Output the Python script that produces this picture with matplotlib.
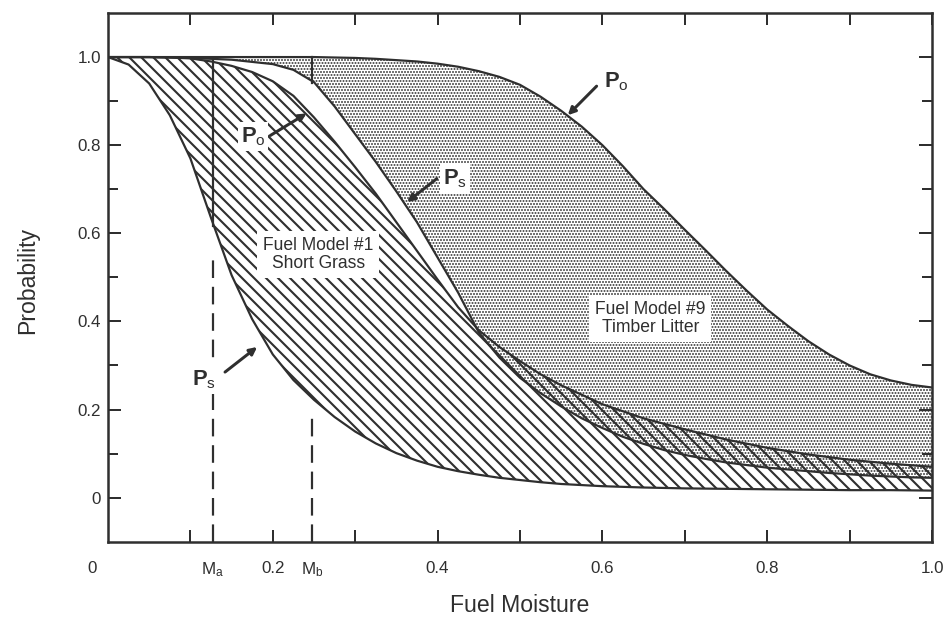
import numpy as np
import matplotlib.pyplot as plt

plt.rcParams['font.family'] = ['Liberation Sans', 'DejaVu Sans']
plt.rcParams['mathtext.fontset'] = 'custom'
plt.rcParams['mathtext.rm'] = 'Liberation Sans'
plt.rcParams['mathtext.bf'] = 'Liberation Sans:bold'

ink = '#2f2f2f'

# fuel model 1 (short grass): P_s and P_o against fuel moisture
x1 = [0, 0.025, 0.05, 0.075, 0.1, 0.125, 0.15, 0.175, 0.2, 0.225, 0.25, 0.275,
      0.3, 0.325, 0.35, 0.375, 0.4, 0.425, 0.45, 0.475, 0.5, 0.525, 0.55, 0.6, 0.65,
      0.7, 0.75, 0.8, 0.85, 0.9, 0.95, 1.0]
ps1 = [1.0, 0.983, 0.94, 0.868, 0.77, 0.635, 0.505, 0.405, 0.325, 0.267, 0.222, 0.183,
       0.15, 0.123, 0.101, 0.084, 0.07, 0.06, 0.052, 0.045, 0.04, 0.035, 0.031, 0.026, 0.023,
       0.021, 0.02, 0.019, 0.018, 0.017, 0.017, 0.016]
po1 = [1.0, 1.0, 1.0, 0.999, 0.997, 0.99, 0.98, 0.966, 0.945, 0.912, 0.863, 0.808,
       0.75, 0.69, 0.625, 0.56, 0.495, 0.432, 0.38, 0.342, 0.31, 0.28, 0.255, 0.212, 0.18,
       0.155, 0.132, 0.113, 0.098, 0.086, 0.077, 0.07]

# fuel model 9 (timber litter)
x9 = [0, 0.05, 0.1, 0.15, 0.2, 0.225, 0.25, 0.275, 0.3, 0.325, 0.35, 0.375, 0.4,
      0.425, 0.45, 0.475, 0.5, 0.525, 0.55, 0.575, 0.6, 0.625, 0.65, 0.675, 0.7,
      0.725, 0.75, 0.775, 0.8, 0.825, 0.85, 0.875, 0.9, 0.925, 0.95, 0.975, 1.0]
ps9 = [1.0, 1.0, 0.998, 0.994, 0.984, 0.971, 0.943, 0.888, 0.825, 0.762, 0.695, 0.625, 0.545,
       0.465, 0.375, 0.318, 0.272, 0.237, 0.207, 0.18, 0.158, 0.138, 0.122, 0.108, 0.097,
       0.088, 0.08, 0.074, 0.068, 0.064, 0.06, 0.056, 0.053, 0.05, 0.048, 0.046, 0.045]
po9 = [1.0, 1.0, 1.0, 1.0, 1.0, 1.0, 1.0, 0.999, 0.998, 0.996, 0.993, 0.99, 0.985,
       0.978, 0.968, 0.955, 0.937, 0.91, 0.878, 0.842, 0.80, 0.752, 0.70, 0.655, 0.608,
       0.562, 0.515, 0.47, 0.427, 0.39, 0.355, 0.325, 0.30, 0.28, 0.266, 0.256, 0.25]

ma, mb = 0.127, 0.248
ma_solid = [0.617, 0.99]
mb_solid = [0.94, 1.0]
ma_dash_top = 0.54
mb_dash_top = 0.19

xtick_pos = [0.1, 0.2, 0.3, 0.4, 0.5, 0.6, 0.7, 0.8, 0.9, 1.0]
xtick_lab = ['', '0.2', '', '0.4', '', '0.6', '', '0.8', '', '1.0']
ytick_pos = [0, 0.2, 0.4, 0.6, 0.8, 1.0]
ytick_lab = ['0', '0.2', '0.4', '0.6', '0.8', '1.0']
yminor = [0.1, 0.3, 0.5, 0.7, 0.9]

fig = plt.figure(figsize=(944/72, 624/72), dpi=72)
ax = fig.add_axes([108/944, 1-541.7/624, 824/944, 528.7/624])

with plt.rc_context({'hatch.linewidth': 2.1}):
    ax.fill_between(x1, ps1, po1, facecolor='none', edgecolor=ink, hatch='\\\\', linewidth=0)
with plt.rc_context({'hatch.linewidth': 1.3}):
    ax.fill_between(x9, ps9, po9, facecolor='none', edgecolor=ink, hatch='....', linewidth=0)

for xx, yy in [(x1, ps1), (x1, po1), (x9, ps9), (x9, po9)]:
    ax.plot(xx, yy, color=ink, lw=2.2, solid_capstyle='butt')

ax.plot([ma, ma], ma_solid, color=ink, lw=2.2)
ax.plot([mb, mb], mb_solid, color=ink, lw=2.2)
ax.plot([ma, ma], [-0.1, ma_dash_top], color=ink, lw=2.2, dashes=(8, 4))
ax.plot([mb, mb], [-0.1, mb_dash_top], color=ink, lw=2.2, dashes=(8, 4))

box = dict(facecolor='white', edgecolor='none', pad=6)
ax.text(0.255, 0.552, 'Fuel Model #1\nShort Grass', ha='center', va='center',
        fontsize=17.5, color=ink, linespacing=1.1, bbox=box, zorder=5)
ax.text(0.658, 0.406, 'Fuel Model #9\nTimber Litter', ha='center', va='center',
        fontsize=17.5, color=ink, linespacing=1.1, bbox=box, zorder=5)

labels = [(r'$\mathbf{P}_{\mathregular{o}}$', 0.176, 0.82, 0.197, 0.822, 0.241, 0.872),
          (r'$\mathbf{P}_{\mathregular{s}}$', 0.421, 0.724, 0.399, 0.724, 0.363, 0.671),
          (r'$\mathbf{P}_{\mathregular{o}}$', 0.617, 0.945, 0.593, 0.934, 0.558, 0.868),
          (r'$\mathbf{P}_{\mathregular{s}}$', 0.117, 0.267, 0.142, 0.285, 0.181, 0.342)]
for s, tx, ty, ax0, ay0, ax1, ay1 in labels:
    ax.text(tx, ty, s, ha='center', va='center', fontsize=22, color=ink,
            bbox=dict(facecolor='white', edgecolor='none', pad=3), zorder=5)
    ax.annotate('', xy=(ax1, ay1), xytext=(ax0, ay0), zorder=6,
                arrowprops=dict(arrowstyle='-|>,head_length=0.6,head_width=0.3',
                                lw=3, color=ink, shrinkA=0, shrinkB=0))

ax.set_xlim(0, 1)
ax.set_ylim(-0.1, 1.1)
ax.set_xticks(xtick_pos, xtick_lab)
ax.set_yticks(ytick_pos, ytick_lab)
ax.set_yticks(yminor, minor=True)
ax.tick_params(which='both', direction='in', top=True, right=True, width=2,
               color=ink, labelcolor=ink, labelsize=17)
ax.tick_params(axis='x', length=12, pad=19)
ax.tick_params(axis='y', which='major', length=13, pad=7)
ax.tick_params(axis='y', which='minor', length=10)
for sp in ax.spines.values():
    sp.set_linewidth(2.5)
    sp.set_color(ink)

for s, xv in [('0', -0.019), (r'$\mathregular{M_a}$', ma), (r'$\mathregular{M_b}$', mb)]:
    ax.annotate(s, xy=(xv, 0), xycoords=('data', 'axes fraction'), xytext=(0, -19),
                textcoords='offset points', ha='center', va='top', fontsize=17,
                color=ink, annotation_clip=False)

fig.text(28/944, 1-280/624, 'Probability', rotation=90, ha='center', va='center',
         fontsize=23, color=ink)
fig.text(520/944, 1-605/624, 'Fuel Moisture', ha='center', va='center',
         fontsize=23, color=ink)

fig.savefig('out.png', dpi=72)
